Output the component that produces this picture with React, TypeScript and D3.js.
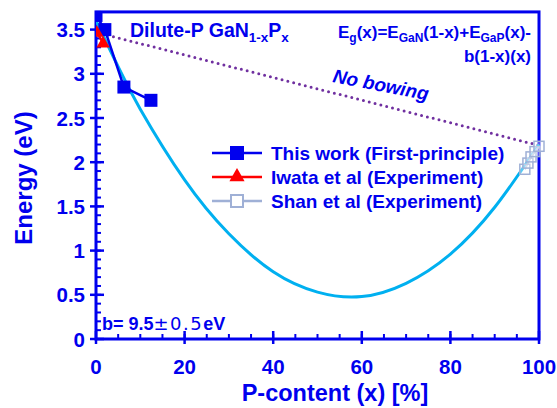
import React from "react";
import * as d3 from "d3";

const W = 557, H = 408;
const xTicks = [0, 20, 40, 60, 80, 100];
const yTicks = [0, 0.5, 1, 1.5, 2, 2.5, 3, 3.5];
const yTickLabels = ["0", "0.5", "1", "1.5", "2", "2.5", "3", "3.5"];

// This work (First-principle)
const thisX = [0, 2.0, 6.3, 12.4];
const thisE = [3.66, 3.5, 2.85, 2.7];
// Iwata et al (Experiment)
const iwataX = [0.2, 1.6];
const iwataE = [3.47, 3.35];
// Shan et al (Experiment)
const shanX = [96.8, 97.5, 98.2, 99.1, 100];
const shanE = [1.92, 1.99, 2.06, 2.12, 2.18];
const fitX = [0, 5, 10, 20, 30, 40, 50, 60, 70, 80, 90, 100];
const fitE = [3.6, 3.08, 2.6, 1.8, 1.19, 0.76, 0.53, 0.48, 0.63, 0.96, 1.49, 2.2];
// No bowing line
const noBowX = [0, 100];
const noBowE = [3.47, 2.19];

const BLUE = "#0000ee";
const FONT = "'Liberation Sans', Arial, sans-serif";

export default function App() {
  const x = d3.scaleLinear().domain([0, 100]).range([96, 539]);
  const y = d3.scaleLinear().domain([0, 3.7]).range([339, 339 - 3.7 * 88.4]);
  const line = d3.line<[number, number]>().x(d => x(d[0])).y(d => y(d[1]));
  const fitLine = d3.line<[number, number]>().x(d => x(d[0])).y(d => y(d[1])).curve(d3.curveNatural);
  const zip = (a: number[], b: number[]) => a.map((v, i) => [v, b[i]] as [number, number]);

  const xMinor = d3.range(0, 101, 5);
  const yMinor = d3.range(0, 3.71, 0.1);
  const top = y(3.7);

  const tri = (cx: number, cy: number, s: number) =>
    `M${cx},${cy - s}L${cx + s * 0.95},${cy + s * 0.65}L${cx - s * 0.95},${cy + s * 0.65}Z`;

  const legendY = [153, 177, 201];
  return (
    <svg width={W} height={H} style={{ position: "absolute", left: 0, top: 0, background: "#fff" }}
      fontFamily={FONT} fontWeight="bold">
      <defs>
        <clipPath id="plot">
          <rect x={x(0)} y={top} width={x(100) - x(0) + 6} height={y(0) - top} />
        </clipPath>
      </defs>
      {/* frame */}
      <rect x={x(0)} y={top} width={x(100) - x(0)} height={y(0) - top} fill="none" stroke={BLUE} strokeWidth={3} />
      {/* minor ticks */}
      {xMinor.map(v => (
        <line key={"xm" + v} x1={x(v)} x2={x(v)} y1={y(0)} y2={y(0) - 5} stroke={BLUE} strokeWidth={2} />
      ))}
      {xTicks.map(v => (
        <line key={"xM" + v} x1={x(v)} x2={x(v)} y1={y(0) + 5} y2={y(0) - 8} stroke={BLUE} strokeWidth={2.5} />
      ))}
      {yMinor.map((v, i) => (
        <line key={"ym" + i} x1={x(0)} x2={x(0) + 5} y1={y(v)} y2={y(v)} stroke={BLUE} strokeWidth={2} />
      ))}
      {yTicks.map(v => (
        <line key={"yM" + v} x1={x(0) - 6} x2={x(0) + 8} y1={y(v)} y2={y(v)} stroke={BLUE} strokeWidth={2.5} />
      ))}
      {/* tick labels */}
      {xTicks.map(v => (
        <text key={"xl" + v} x={x(v)} y={374} textAnchor="middle" fontSize={20.5} fill={BLUE}>{v}</text>
      ))}
      {yTicks.map((v, i) => (
        <text key={"yl" + v} x={85} y={y(v) + 7.5} textAnchor="end" fontSize={20.5} fill={BLUE}>{yTickLabels[i]}</text>
      ))}
      {/* axis titles */}
      <text x={335} y={401} textAnchor="middle" fontSize={23.5} fill={BLUE}>P-content (x) [%]</text>
      <text transform={`translate(32,178) rotate(-90)`} textAnchor="middle" fontSize={24} fill={BLUE}>Energy (eV)</text>

      <g clipPath="url(#plot)">
        {/* no bowing */}
        <path d={line(zip(noBowX, noBowE)) || ""} fill="none" stroke="#7030a0" strokeWidth={3}
          strokeDasharray="0 6" strokeLinecap="round" />
        {/* fit curve */}
        <path d={fitLine(zip(fitX, fitE)) || ""} fill="none" stroke="#00b0f0" strokeWidth={3} />
        {/* Shan */}
        <path d={line(zip(shanX, shanE)) || ""} fill="none" stroke="#9fb0d6" strokeWidth={2} />
        {shanX.map((v, i) => (
          <rect key={"sh" + i} x={x(v) - 5} y={y(shanE[i]) - 5} width={10} height={10}
            fill="rgba(255,255,255,0.35)" stroke="#9fb0d6" strokeWidth={1.5} />
        ))}
        {/* This work */}
        <path d={line(zip(thisX, thisE)) || ""} fill="none" stroke={BLUE} strokeWidth={2.5} />
        {thisX.map((v, i) => (
          <rect key={"tw" + i} x={x(v) - 6.5} y={y(thisE[i]) - 6.5} width={13} height={13} fill={BLUE} />
        ))}
        {/* Iwata */}
        <path d={line(zip(iwataX, iwataE)) || ""} fill="none" stroke="#ff0000" strokeWidth={2.5} />
        {iwataX.map((v, i) => (
          <path key={"iw" + i} d={tri(x(v), y(iwataE[i]), 7)} fill="#ff0000" />
        ))}
      </g>

      {/* legend */}
      <line x1={212} x2={262} y1={legendY[0]} y2={legendY[0]} stroke={BLUE} strokeWidth={2.5} />
      <rect x={237 - 7} y={legendY[0] - 7} width={14} height={14} fill={BLUE} />
      <line x1={212} x2={262} y1={legendY[1]} y2={legendY[1]} stroke="#ff0000" strokeWidth={2.5} />
      <path d={tri(237, legendY[1] - 1, 8)} fill="#ff0000" />
      <line x1={212} x2={262} y1={legendY[2]} y2={legendY[2]} stroke="#9fb0d6" strokeWidth={2.5} />
      <rect x={237 - 6} y={legendY[2] - 6} width={12} height={12} fill="#fff" stroke="#9fb0d6" strokeWidth={2} />
      <text x={271} y={legendY[0] + 7} fontSize={19} fill={BLUE}>This work (First-principle)</text>
      <text x={271} y={legendY[1] + 7} fontSize={19} fill={BLUE}>Iwata et al (Experiment)</text>
      <text x={271} y={legendY[2] + 7} fontSize={19} fill={BLUE}>Shan et al (Experiment)</text>

      {/* annotations */}
      <text x={130} y={37} fontSize={19.5} fill={BLUE}>
        Dilute-P GaN<tspan fontSize={13.5} dy={5}>1-x</tspan><tspan dy={-5}>P</tspan><tspan fontSize={13.5} dy={5}>x</tspan>
      </text>
      <text x={531} y={38} textAnchor="end" fontSize={17} fill={BLUE}>
        E<tspan fontSize={12} dy={4}>g</tspan><tspan dy={-4}>(x)=E</tspan><tspan fontSize={12} dy={4}>GaN</tspan><tspan dy={-4}>(1-x)+E</tspan><tspan fontSize={12} dy={4}>GaP</tspan><tspan dy={-4}>(x)-</tspan>
      </text>
      <text x={531} y={62} textAnchor="end" fontSize={17} fill={BLUE}>b(1-x)(x)</text>
      <text transform="translate(332,82) rotate(11)" fontSize={19} fontStyle="italic" fill={BLUE}>No bowing</text>
      <text x={102} y={330} fontSize={18} fill={BLUE}>b= 9.5<tspan fontFamily="'DejaVu Sans', sans-serif" fontWeight="normal" letterSpacing={1.5}>±0.5</tspan>eV</text>
    </svg>
  );
}
